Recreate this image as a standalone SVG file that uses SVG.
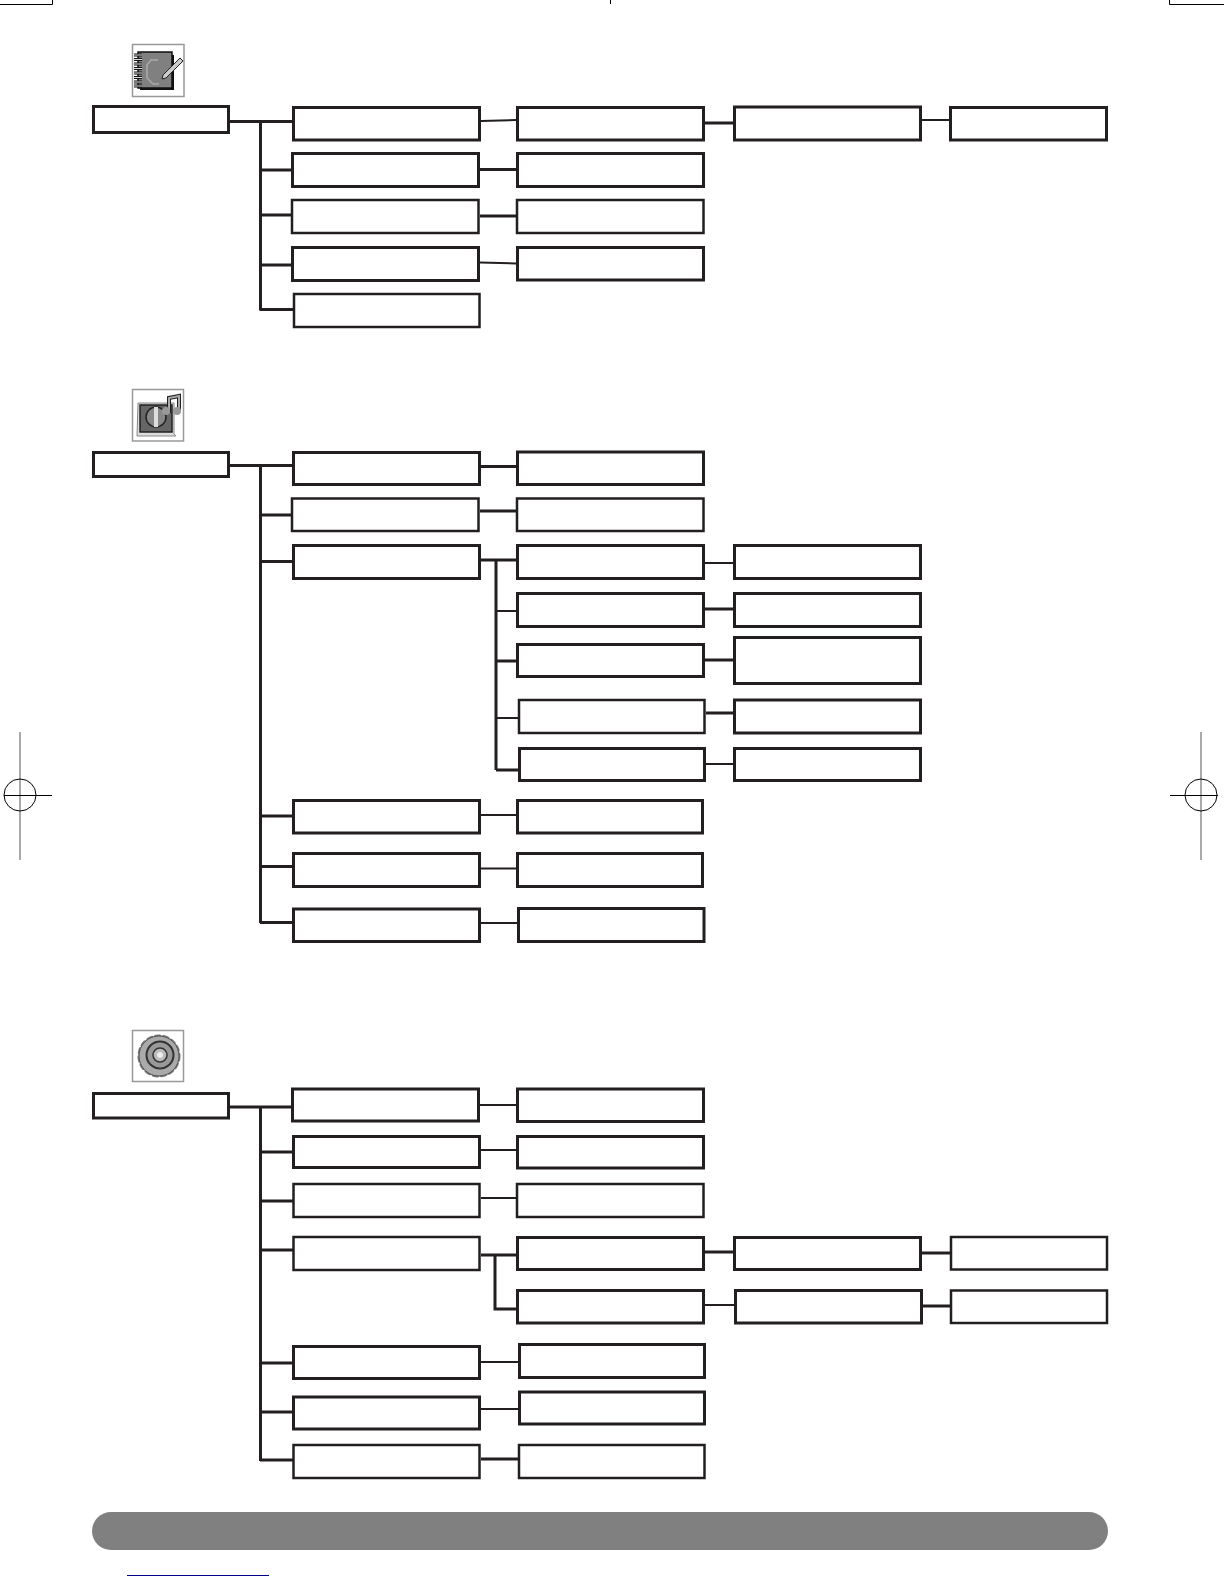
<svg xmlns="http://www.w3.org/2000/svg" width="1224" height="1584" viewBox="0 0 1224 1584">
<style>
.n{fill:#fff;stroke:#231f20;stroke-width:3}
.t{fill:#fff;stroke:#231f20;stroke-width:2.500}
.c path{fill:none;stroke:#231f20;stroke-width:3}
.c path.s{stroke-width:2}
.k{fill:none;stroke:#000;stroke-width:1}
.f{fill:#fff;stroke:#999;stroke-width:1.500}
</style>
<rect width="1224" height="1584" fill="#fff"/>
<g id="crop-marks">
<path class="k" d="M0 4.500H52.500V0M1224 4.500H1169.500V0M610.500 0V4"/>
<path d="M20 732V860M1201 732V860" fill="none" stroke="#aaa" stroke-width="2"/>
<circle class="k" cx="20" cy="795" r="16"/><circle class="k" cx="1201" cy="795" r="16"/>
<path class="k" d="M4 795.500H52M1170 795.500H1218"/>
</g>
<g id="icon-phonebook">
<rect class="f" x="132.500" y="44.500" width="51.500" height="52"/>
<path d="M140 55h34v35h-34z" fill="#111"/>
<rect x="138" y="52" width="34" height="36" fill="#808080" stroke="#111" stroke-width="1.500"/>
<path d="M134 55h8M134 59.500h8M134 64h8M134 68.500h8M134 73h8M134 77.500h8M134 82h8M134 86h8" stroke="#111" stroke-width="3" fill="none"/>
<path d="M134 55h8M134 59.500h8M134 64h8M134 68.500h8M134 73h8M134 77.500h8M134 82h8M134 86h8" stroke="#ddd" stroke-width="1" fill="none"/>
<path d="M158 60h-7l-4 5v13l6 6h6" fill="none" stroke="#aaa" stroke-width="1.500"/>
<path d="M163 75l17-17 3 3-17 17-4 1z" fill="#ccc" stroke="#222" stroke-width="1"/>
</g>
<g id="icon-music">
<rect class="f" x="132.500" y="389.500" width="51" height="51.500"/>
<path d="M138 403h36v31l2 2h-39z" fill="#ddd" stroke="#888"/>
<rect x="140" y="405" width="32" height="27" fill="#666" stroke="#222" stroke-width="1.500"/>
<circle cx="156" cy="417" r="10" fill="#888" stroke="#222" stroke-width="1.500"/>
<path d="M156 407v20" stroke="#ddd" stroke-width="4"/>
<path d="M169 413v-15l10-2v14" fill="none" stroke="#222" stroke-width="4"/>
<path d="M169 413v-15l10-2v14" fill="none" stroke="#aaa" stroke-width="2"/>
<circle cx="166" cy="411" r="4" fill="#999"/><circle cx="177" cy="411" r="4" fill="#999"/>
</g>
<g id="icon-settings">
<rect class="f" x="132.500" y="1030.500" width="51" height="51"/>
<circle cx="159" cy="1056" r="19.500" fill="none" stroke="#777" stroke-width="4" stroke-dasharray="4 4" stroke-linecap="round"/>
<circle cx="159" cy="1056" r="20" fill="#aaa" stroke="#555" stroke-width="1"/>
<circle cx="160" cy="1055" r="13.500" fill="#999" stroke="#333" stroke-width="2"/>
<circle cx="160" cy="1055" r="7" fill="#bbb" stroke="#333" stroke-width="1.500"/>
<circle cx="160" cy="1055" r="3" fill="#eee"/>
</g>
<g class="c" id="connectors">
<path d="M229 121.500H292M260.500 120V310.500M260 170H291M260 215H291M260 265H291M260 309.500H293"/>
<path d="M480 169.500H516M480 216H516M705 123H733"/>
<path class="s" d="M481 121L516 120M480 262.500L516 263.500M922 120H950"/>
<path d="M229 465.500H293M260.500 464V923M260 515H291M260 561.500H293M260 816H293M260 866.500H293M260 922.500H293"/>
<path d="M481 466.500H516M480 511H516M481 560H516M496 560V770M496 661H516M496 770H518"/>
<path class="s" d="M481 815H516M481 868.500H516M481 923H518M496 611H516M496 718H518M705 563H733M706 764H733"/>
<path d="M705 609H733M705 660H733M706 713H733"/>
<path d="M229 1107H291M260.500 1106V1461M260 1152H293M260 1201H293M260 1250H293M260 1363H293M260 1412H293M260 1460H293"/>
<path class="s" d="M480 1105H516M481 1150H516M481 1198H516M481 1362H518M481 1409H518M705 1305H735"/>
<path d="M481 1255H516M495 1255V1309H516M705 1252H733M921 1253H950M923 1306H950M481 1459H518"/>
</g>
<g id="section-1">
<rect id="a0" class="n" x="93.500" y="106.500" width="135" height="26"/>
<rect id="a1" class="n" x="293.500" y="107.500" width="186" height="32.500"/>
<rect id="a2" class="n" x="292.500" y="153.500" width="186" height="33"/>
<rect id="a3" class="t" x="292" y="200" width="186.500" height="33"/>
<rect id="a4" class="n" x="292.500" y="247.500" width="186" height="33"/>
<rect id="a5" class="t" x="294" y="294" width="185.500" height="33"/>
<rect id="a6" class="n" x="517.500" y="107.500" width="186" height="32.500"/>
<rect id="a7" class="n" x="517.500" y="153.500" width="186" height="33"/>
<rect id="a8" class="t" x="517" y="200" width="186.500" height="33"/>
<rect id="a9" class="n" x="517.500" y="247.500" width="186" height="32.500"/>
<rect id="a10" class="n" x="734.500" y="107" width="186" height="33"/>
<rect id="a11" class="n" x="950.500" y="107.500" width="156" height="32.500"/>
</g>
<g id="section-2">
<rect id="b0" class="n" x="93.500" y="452.500" width="135" height="24"/>
<rect id="b1" class="n" x="293.500" y="452.500" width="186" height="32"/>
<rect id="b2" class="t" x="292" y="498.500" width="186.500" height="32.500"/>
<rect id="b3" class="n" x="293.500" y="545.500" width="186" height="33"/>
<rect id="b4" class="n" x="293.500" y="800.500" width="186" height="32.500"/>
<rect id="b5" class="n" x="293.500" y="853.500" width="186" height="33"/>
<rect id="b6" class="n" x="293.500" y="909" width="186" height="32.500"/>
<rect id="b7" class="n" x="517.500" y="452" width="186" height="32.500"/>
<rect id="b8" class="t" x="517" y="498.500" width="186.500" height="32.500"/>
<rect id="b9" class="n" x="517.500" y="545.500" width="186" height="33"/>
<rect id="b10" class="n" x="517.500" y="593.500" width="186" height="33"/>
<rect id="b11" class="n" x="517.500" y="644.500" width="186" height="32"/>
<rect id="b12" class="t" x="519" y="700" width="185.500" height="33"/>
<rect id="b13" class="n" x="519.500" y="748.500" width="185" height="32"/>
<rect id="b14" class="n" x="517.500" y="800.500" width="185" height="32.500"/>
<rect id="b15" class="n" x="517.500" y="853.500" width="185" height="33"/>
<rect id="b16" class="n" x="518.500" y="908.500" width="185.500" height="33"/>
<rect id="b17" class="n" x="734.500" y="545.500" width="186" height="33"/>
<rect id="b18" class="n" x="734.500" y="593.500" width="186" height="33"/>
<rect id="b19" class="n" x="734.500" y="637.500" width="186" height="46"/>
<rect id="b20" class="n" x="734.500" y="700" width="186" height="33"/>
<rect id="b21" class="n" x="734.500" y="748.500" width="186" height="32"/>
</g>
<g id="section-3">
<rect id="c0" class="n" x="93.500" y="1093.500" width="135" height="24.500"/>
<rect id="c1" class="n" x="292.500" y="1089" width="186" height="32"/>
<rect id="c2" class="n" x="293.500" y="1136.500" width="186" height="31"/>
<rect id="c3" class="t" x="293.500" y="1184" width="186" height="33"/>
<rect id="c4" class="t" x="293.500" y="1237" width="186" height="33"/>
<rect id="c5" class="n" x="293.500" y="1346.500" width="186" height="32"/>
<rect id="c6" class="n" x="293.500" y="1397" width="186" height="32"/>
<rect id="c7" class="t" x="293.500" y="1445" width="186" height="33"/>
<rect id="c8" class="n" x="517.500" y="1089" width="186" height="32.500"/>
<rect id="c9" class="n" x="517.500" y="1136.500" width="186" height="31.500"/>
<rect id="c10" class="t" x="517" y="1184" width="186.500" height="33"/>
<rect id="c11" class="n" x="517.500" y="1237.500" width="186" height="32"/>
<rect id="c12" class="n" x="517.500" y="1290.500" width="186" height="32.500"/>
<rect id="c13" class="n" x="519.500" y="1344.500" width="185" height="33"/>
<rect id="c14" class="n" x="519.500" y="1392" width="185" height="32"/>
<rect id="c15" class="t" x="519" y="1445" width="185.500" height="33"/>
<rect id="c16" class="n" x="734.500" y="1237.500" width="186" height="32"/>
<rect id="c17" class="n" x="735.500" y="1290.500" width="186" height="32.500"/>
<rect id="c18" class="t" x="951" y="1237" width="156" height="32.500"/>
<rect id="c19" class="t" x="951" y="1290.500" width="156" height="32.500"/>
</g>
<rect id="bar" x="92" y="1512" width="1016" height="38" rx="19" fill="#808080"/>
<path id="link" d="M127 1575.500H269" stroke="#00008b" stroke-width="1" fill="none"/>
</svg>
